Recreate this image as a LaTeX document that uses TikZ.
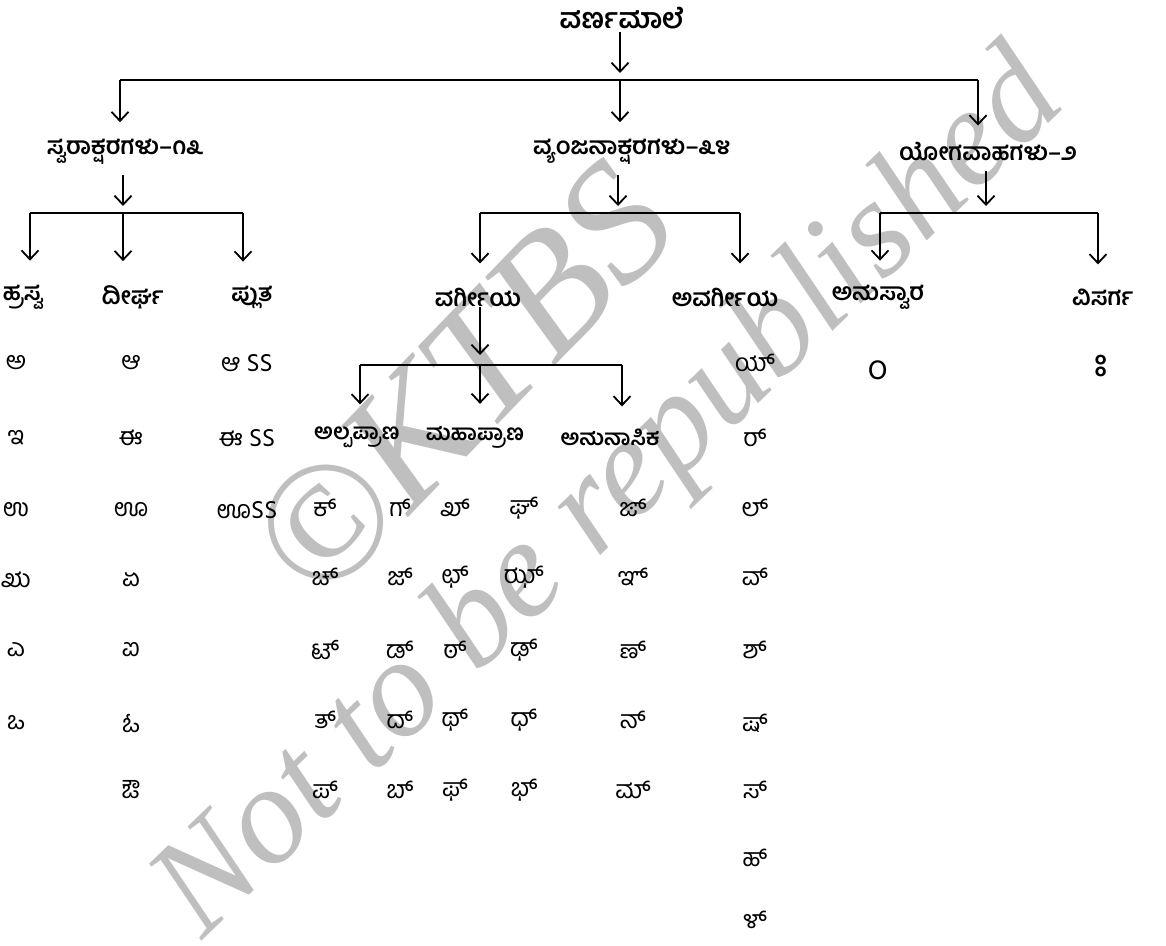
\documentclass[tikz,border=0pt]{standalone}
\usepackage{fontspec}
\usetikzlibrary{arrows.meta}
\newfontfamily\kn[Script=Kannada]{Hind Mysuru}
\newfontfamily\wmfont{Liberation Serif}
\begin{document}
\begin{tikzpicture}[x=1pt,y=-1pt,
  lab/.style={font=\kn\bfseries\fontsize{24}{28}\selectfont, inner sep=0pt},
  sublab/.style={font=\kn\bfseries\fontsize{22}{26}\selectfont, inner sep=0pt},
  let/.style={font=\kn\fontsize{25}{29}\selectfont, inner sep=0pt},
  arr/.style={-{Straight Barb[length=9pt,width=17pt]}, line width=1.8pt},
  bus/.style={line width=1.8pt},
  wmk/.style={font=\wmfont\itshape\fontsize{170}{170}\selectfont, text=black!25, inner sep=0pt}]
\useasboundingbox (0,0) rectangle (1166,945);
\fill[white] (0,0) rectangle (1166,945);
% watermark
\node[wmk, rotate=46] (wmA) at (462,382) {©KTBS};
\node[wmk, rotate=44, font=\wmfont\itshape\fontsize{140}{140}\selectfont] (wmB) at (612,498) {Not to be republished};
% level 0
\node[lab, font=\kn\bfseries\fontsize{28}{32}\selectfont] (root) at (622,18) {ವರ್ಣಮಾಲೆ};
% level 1
\node[lab] (swara) at (125,152) {ಸ್ವರಾಕ್ಷರಗಳು–೧೩};
\node[lab] (vyan) at (632,152) {ವ್ಯಂಜನಾಕ್ಷರಗಳು–೩೪};
\node[lab] (yoga) at (988,152) {ಯೋಗವಾಹಗಳು–೨};
% level 2
\node[lab] (hrasva) at (23,297) {ಹ್ರಸ್ವ};
\node[lab] (deer) at (133,297) {ದೀರ್ಘ};
\node[lab] (pluta) at (252,297) {ಪ್ಲುತ};
\node[lab] (varg) at (478,297) {ವರ್ಗೀಯ};
\node[lab] (avarg) at (725,297) {ಅವರ್ಗೀಯ};
\node[lab] (anus) at (878,297) {ಅನುಸ್ವಾರ};
\node[lab] (visa) at (1103,297) {ವಿಸರ್ಗ};
% level 3
\node[sublab] (alpa) at (357,437) {ಅಲ್ಪಪ್ರಾಣ};
\node[sublab] (maha) at (475,437) {ಮಹಾಪ್ರಾಣ};
\node[sublab] (anuna) at (610,437) {ಅನುನಾಸಿಕ};
% junction coordinates
\coordinate (j0) at (620,80);
\coordinate (b0l) at (120,80);
\coordinate (b0r) at (978,80);
\coordinate (j1) at (123,213);
\coordinate (b1l) at (30,213);
\coordinate (b1r) at (243,213);
\coordinate (j2) at (618,213);
\coordinate (b2l) at (480,213);
\coordinate (b2r) at (740,213);
\coordinate (j3) at (986,213);
\coordinate (b3l) at (880,213);
\coordinate (b3r) at (1098,213);
\coordinate (j4) at (480,365);
\coordinate (b4l) at (360,365);
\coordinate (b4r) at (622,365);
% connectors
\draw[arr, shorten >=7pt, shorten <=3pt] (root.south -| j0) -- (j0);
\draw[bus] (b0l) -- (b0r);
\draw[arr, shorten >=17pt] (b0l) -- (b0l |- swara.north);
\draw[arr, shorten >=17pt] (j0) -- (j0 |- vyan.north);
\draw[arr, shorten >=17pt] (b0r) -- (b0r |- yoga.north);

\draw[arr, shorten >=7pt, shorten <=10pt] (swara.south -| j1) -- (j1);
\draw[bus] (b1l) -- (b1r);
\draw[arr, shorten >=24pt] (b1l) -- (b1l |- hrasva.north);
\draw[arr, shorten >=24pt] (j1) -- (j1 |- deer.north);
\draw[arr, shorten >=24pt] (b1r) -- (b1r |- pluta.north);

\draw[arr, shorten >=7pt, shorten <=10pt] (vyan.south -| j2) -- (j2);
\draw[bus] (b2l) -- (b2r);
\draw[arr, shorten >=24pt] (b2l) -- (b2l |- varg.north);
\draw[arr, shorten >=24pt] (b2r) -- (b2r |- avarg.north);

\draw[arr, shorten >=7pt, shorten <=10pt] (yoga.south -| j3) -- (j3);
\draw[bus] (b3l) -- (b3r);
\draw[arr, shorten >=24pt] (b3l) -- (b3l |- anus.north);
\draw[arr, shorten >=24pt] (b3r) -- (b3r |- visa.north);

\draw[arr, shorten >=10pt] (varg.south -| j4) -- (j4);
\draw[bus] (b4l) -- (b4r);
\draw[arr, shorten >=22pt] (b4l) -- (b4l |- alpa.north);
\draw[arr, shorten >=22pt] (j4) -- (j4 |- maha.north);
\draw[arr, shorten >=22pt] (b4r) -- (b4r |- anuna.north);
% vowels
\foreach \t/\yy [count=\i] in {ಅ/363,ಇ/438,ಉ/510,ಋ/580,ಎ/650,ಒ/723}
  \node[let] (h\i) at (16,\yy) {\t};
\foreach \t/\yy [count=\i] in {ಆ/363,ಈ/438,ಊ/510,ಏ/580,ಐ/650,ಓ/723,ಔ/790}
  \node[let] (d\i) at (131,\yy) {\t};
\node[let] (p1) at (247,363) {ಆ SS};
\node[let] (p2) at (247,438) {ಈ SS};
\node[let] (p3) at (247,510) {ಊSS};
% consonants
\foreach \t/\yy [count=\i] in {ಕ್/508,ಚ್/577,ಟ್/650,ತ್/720,ಪ್/790}
  \node[let] (ka\i) at (325,\yy) {\t};
\foreach \t/\yy [count=\i] in {ಗ್/508,ಜ್/577,ಡ್/650,ದ್/720,ಬ್/790}
  \node[let] (ga\i) at (400,\yy) {\t};
\foreach \t/\yy [count=\i] in {ಖ್/508,ಛ್/577,ಠ್/650,ಥ್/720,ಫ್/790}
  \node[let] (kh\i) at (455,\yy) {\t};
\foreach \t/\yy [count=\i] in {ಘ್/508,ಝ್/577,ಢ್/650,ಧ್/720,ಭ್/790}
  \node[let] (gh\i) at (524,\yy) {\t};
\foreach \t/\yy [count=\i] in {ಙ್/508,ಞ್/577,ಣ್/650,ನ್/720,ಮ್/790}
  \node[let] (na\i) at (633,\yy) {\t};
\foreach \t/\yy [count=\i] in {ಯ್/363,ರ್/438,ಲ್/508,ವ್/577,ಶ್/650,ಷ್/723,ಸ್/790,ಹ್/858,ಳ್/920}
  \node[let] (av\i) at (755,\yy) {\t};
\node[let, font=\kn\fontsize{34}{38}\selectfont] (anusym) at (873,370) {\char"00A0ಂ};
\node[let, font=\kn\fontsize{38}{42}\selectfont] (visym) at (1096,366) {\char"00A0ಃ};
\end{tikzpicture}
\end{document}
